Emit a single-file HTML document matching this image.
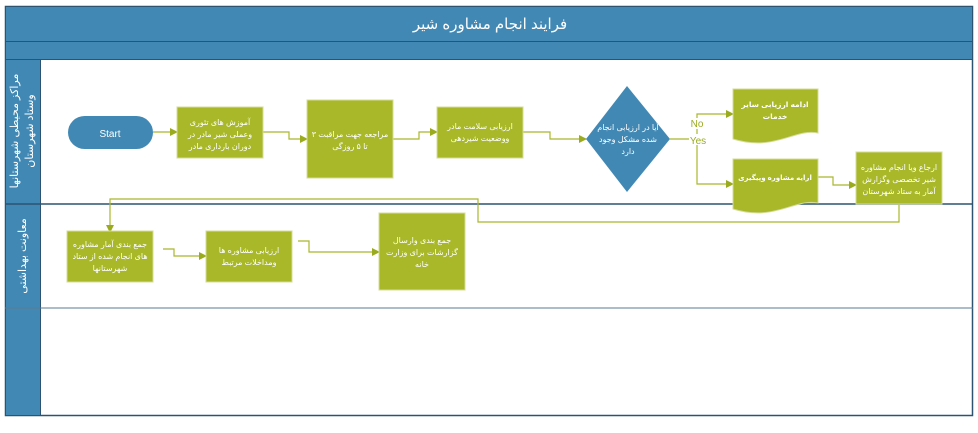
<!DOCTYPE html>
<html><head><meta charset="utf-8"><style>
body{margin:0;background:#fff;width:978px;height:428px;overflow:hidden;font-family:"Liberation Sans","Noto Sans CJK SC",sans-serif}
</style></head><body>
<svg width="978" height="428" xmlns="http://www.w3.org/2000/svg" font-family="Liberation Sans, DejaVu Sans, sans-serif">
<defs><marker id="a" markerWidth="8" markerHeight="8" refX="7" refY="4" orient="auto" markerUnits="userSpaceOnUse"><path d="M0,0L8,4L0,8z" fill="#9aab1e"/></marker></defs>
<rect x="5.5" y="6.5" width="967" height="409" fill="#fff" stroke="#2c5370" stroke-width="1.5"/>
<rect x="5.5" y="6.5" width="967" height="35" fill="#4189b4" stroke="#2c5370"/>
<rect x="5.5" y="41.5" width="967" height="18" fill="#4189b4" stroke="#2c5370"/>
<text x="490" y="29" fill="#fff" font-size="15" text-anchor="middle" direction="rtl">فرایند انجام مشاوره شیر</text>
<rect x="5.5" y="59.5" width="35" height="356" fill="#4189b4" stroke="#2c5370"/>
<line x1="5" y1="204" x2="973" y2="204" stroke="#2c5370" stroke-width="1.5"/>
<line x1="5" y1="308" x2="973" y2="308" stroke="#5a7a90" stroke-width="1"/>
<text transform="translate(18,131) rotate(-90)" fill="#fff" font-size="11" text-anchor="middle" direction="rtl">مراکز محیطی شهرستانها</text>
<text transform="translate(33,131) rotate(-90)" fill="#fff" font-size="11" text-anchor="middle" direction="rtl">وستاد شهرستان</text>
<text transform="translate(26,256) rotate(-90)" fill="#fff" font-size="11" text-anchor="middle" direction="rtl">معاونت بهداشتی</text>
<g fill="none" stroke="#a9b82a" stroke-width="1.2">
<path d="M153,132H177" marker-end="url(#a)"/>
<path d="M263,132H289V139H307" marker-end="url(#a)"/>
<path d="M393,139H419V132H437" marker-end="url(#a)"/>
<path d="M523,132H550V139H586" marker-end="url(#a)"/>
<path d="M670,139H697V114H733" marker-end="url(#a)"/>
<path d="M697,139V184H733" marker-end="url(#a)"/>
<path d="M818,177H833V185H856" marker-end="url(#a)"/>
<path d="M899,204V222H478V199H110V232" marker-end="url(#a)"/>
<path d="M163,249H174V256H206" marker-end="url(#a)"/>
<path d="M298,241H309V252H379" marker-end="url(#a)"/>
</g>
<rect x="689" y="118" width="16" height="11" fill="#fff"/>
<text x="697" y="127" fill="#9aab1e" font-size="10" text-anchor="middle">No</text>
<rect x="689" y="134" width="18" height="11" fill="#fff"/>
<text x="698" y="144" fill="#9aab1e" font-size="10" text-anchor="middle">Yes</text>
<rect x="68" y="116" width="85" height="33" rx="16.5" fill="#4189b4"/>
<text x="110" y="137" fill="#fff" font-size="10" text-anchor="middle">Start</text>
<g fill="#a8b828" stroke="#d4dc98" stroke-width="1">
<rect x="177" y="107" width="86" height="51"/>
<rect x="307" y="100" width="86" height="78"/>
<rect x="437" y="107" width="86" height="51"/>
<rect x="856" y="152" width="86" height="52"/>
<rect x="67" y="231" width="86" height="51"/>
<rect x="206" y="231" width="86" height="51"/>
<rect x="379" y="213" width="86" height="77"/>
<path d="M733,89H818V133C795,128 775,152 733,139Z"/>
<path d="M733,159H818V203C795,198 775,222 733,209Z"/>
</g>
<path d="M627,86L670,139L627,192L586,139Z" fill="#4189b4"/>
<g fill="#fff" font-size="8" text-anchor="middle" direction="rtl">
<text x="220" y="125">آموزش های تئوری</text><text x="220" y="137">وعملی شیر مادر در</text><text x="220" y="149">دوران بارداری مادر</text>
<text x="350" y="137">مراجعه جهت مراقبت ۳</text><text x="350" y="149">تا ۵ روزگی</text>
<text x="480" y="129">ارزیابی سلامت مادر</text><text x="480" y="141">ووضعیت شیردهی</text>
<text x="628" y="130">آیا در ارزیابی انجام</text><text x="628" y="142">شده مشکل وجود</text><text x="628" y="154">دارد</text>
<text x="775" y="107" font-weight="bold" font-size="7.5">ادامه ارزیابی سایر</text><text x="775" y="119" font-weight="bold" font-size="7.5">خدمات</text>
<text x="775" y="180" font-weight="bold" font-size="7">ارایه مشاوره وپیگیری</text>
<text x="899" y="170">ارجاع ویا انجام مشاوره</text><text x="899" y="182">شیر تخصصی وگزارش</text><text x="899" y="194">آمار به ستاد شهرستان</text>
<text x="110" y="247">جمع بندی آمار مشاوره</text><text x="110" y="259">های انجام شده از ستاد</text><text x="110" y="271">شهرستانها</text>
<text x="249" y="253">ارزیابی مشاوره ها</text><text x="249" y="265">ومداخلات مرتبط</text>
<text x="422" y="243">جمع بندی وارسال</text><text x="422" y="255">گزارشات برای وزارت</text><text x="422" y="267">خانه</text>
</g>
</svg>
</body></html>
